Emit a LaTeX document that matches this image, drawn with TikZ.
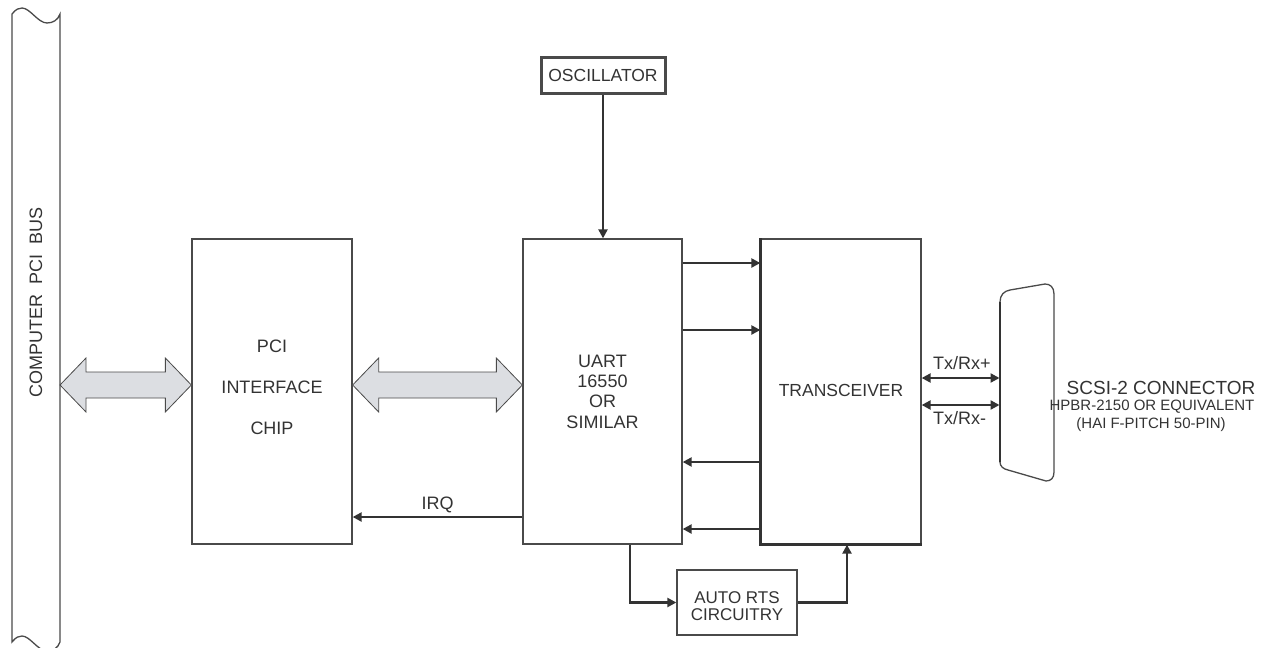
\documentclass[tikz,border=0pt]{standalone}
\usepackage{fontspec}
\setmainfont{Liberation Sans}
\usetikzlibrary{arrows.meta,calc}
\definecolor{ln}{HTML}{333333}
\definecolor{bx}{HTML}{4A4A4A}
\definecolor{txt}{HTML}{333333}
\definecolor{af}{HTML}{DCDEE2}
\begin{document}
\begin{tikzpicture}[x=1pt,y=-1pt,
  blk/.style={draw=bx, line width=1.3pt, inner sep=0pt},
  ghost/.style={inner sep=0pt, outer sep=0pt},
  lbl/.style={text=txt, font=\fontsize{18}{20}\selectfont, inner sep=0pt, align=center},
  sig/.style={draw=ln, line width=2.6pt, -{Triangle[length=9pt,width=9pt]}},
  dsig/.style={draw=ln, line width=2.6pt, {Triangle[length=9pt,width=9pt]}-{Triangle[length=9pt,width=9pt]}},
  bigarrow/.style={draw=bx, line width=0.8pt, fill=af, line join=miter}]
\useasboundingbox (0,0) rectangle (1264,648);

% computer bus
\node[ghost, minimum width=48pt, minimum height=628pt] (bus) at (36,328) {};
\draw[bx, line width=1.3pt]
  (12,14) .. controls (16,9) and (19,8) .. (22,8)
  .. controls (30,8) and (38,23) .. (47,23)
  .. controls (53,23) and (58,20) .. (60,14)
  -- (60,642)
  .. controls (58,648) and (53,651) .. (47,651)
  .. controls (38,651) and (30,636) .. (22,636)
  .. controls (19,636) and (16,637) .. (12,642) -- cycle;
\node[lbl, rotate=90] (buslbl) at (36,302) {COMPUTER\ \ PCI\ \ BUS};

% blocks
\node[blk, minimum width=160pt, minimum height=305pt] (pci) at (272,391.5) {};
\node[lbl, font=\fontsize{18}{41}\selectfont] (pcilbl) at (272,387) {PCI\\INTERFACE\\CHIP};

\node[blk, minimum width=159pt, minimum height=305pt] (uart) at (602.5,391.5) {};
\node[lbl, font=\fontsize{18}{20.3}\selectfont] (uartlbl) at (602.5,391.5) {UART\\16550\\OR\\SIMILAR};

\node[blk, minimum width=160pt, minimum height=305pt] (trans) at (841,391.5) {};
\draw[ln, line width=2.8pt] (trans.north west) -- (trans.south west) -- (trans.south east);
\node[lbl, font=\fontsize{17.5}{20}\selectfont] (translbl) at (841,390) {TRANSCEIVER};

\node[blk, line width=3pt, minimum width=124pt, minimum height=36pt] (osc) at (603,75) {};
\node[lbl, font=\fontsize{17.5}{20}\selectfont] (osclbl) at (603,75) {OSCILLATOR};

\node[blk, minimum width=120pt, minimum height=65pt] (rts) at (737,602.5) {};
\node[lbl, font=\fontsize{17}{17.5}\selectfont] (rtslbl) at (737,606) {AUTO RTS\\CIRCUITRY};

% connector
\node[ghost, minimum width=54pt, minimum height=196pt] (conn) at (1026.5,382) {};
\draw[bx, line width=1.3pt, line join=round]
  (1000,302) .. controls (1000,295) and (1004,291) .. (1010,290)
  -- (1045,284) .. controls (1050,284) and (1054,287) .. (1054,294)
  -- (1054,472) .. controls (1054,478) and (1051,481) .. (1046,481)
  -- (1008,470) .. controls (1003,469) and (1000,466) .. (1000,462) -- cycle;
\draw[ln, line width=2.6pt] (1000,302) -- (1000,462);

% big double arrows
\coordinate (ay) at (0,385);
\foreach \a/\b in {bus/pci, pci/uart}{
  \draw[bigarrow] let \p1=(\a.east |- ay), \p2=(\b.west |- ay) in
    (\p1) -- ($(\p1)+(26,-27)$) -- ($(\p1)+(26,-13)$) -- ($(\p2)+(-26,-13)$)
    -- ($(\p2)+(-26,-27)$) -- (\p2) -- ($(\p2)+(-26,27)$) -- ($(\p2)+(-26,13)$)
    -- ($(\p1)+(26,13)$) -- ($(\p1)+(26,27)$) -- cycle;
}

% signals
\draw[sig, line width=2.2pt] (osc.south) -- (uart.north -| osc.south);
\coordinate (y1) at (0,263);
\coordinate (y2) at (0,330);
\coordinate (y3) at (0,462);
\coordinate (y4) at (0,529);
\draw[sig] (uart.east |- y1) -- (trans.west |- y1);
\draw[sig] (uart.east |- y2) -- (trans.west |- y2);
\draw[sig] (trans.west |- y3) -- (uart.east |- y3);
\draw[sig] (trans.west |- y4) -- (uart.east |- y4);

\coordinate (yi) at (0,517);
\draw[sig] (uart.west |- yi) -- (pci.east |- yi) node[pos=0.5, above=3pt, lbl] (irq) {IRQ};

\coordinate (xr1) at (630,0);
\coordinate (xr2) at (847,0);
\draw[sig] (uart.south -| xr1) |- (rts.west);
\draw[sig] (rts.east) -| (trans.south -| xr2);

\coordinate (yp) at (0,378);
\coordinate (ym) at (0,405);
\draw[dsig] (trans.east |- yp) -- (conn.west |- yp);
\draw[dsig] (trans.east |- ym) -- (conn.west |- ym);
\node[lbl, anchor=west] (txp) at (933,363) {Tx/Rx+};
\node[lbl, anchor=west] (txm) at (933,418) {Tx/Rx-};

\node[lbl, font=\fontsize{19}{20}\selectfont] (scsi) at (1161,388) {SCSI-2 CONNECTOR};
\node[lbl, font=\fontsize{15}{18}\selectfont] (hpbr) at (1152,407) {HPBR-2150 OR EQUIVALENT};
\node[lbl, font=\fontsize{15}{18}\selectfont] (hai) at (1151,425) {(HAI F-PITCH 50-PIN)};
\end{tikzpicture}
\end{document}
